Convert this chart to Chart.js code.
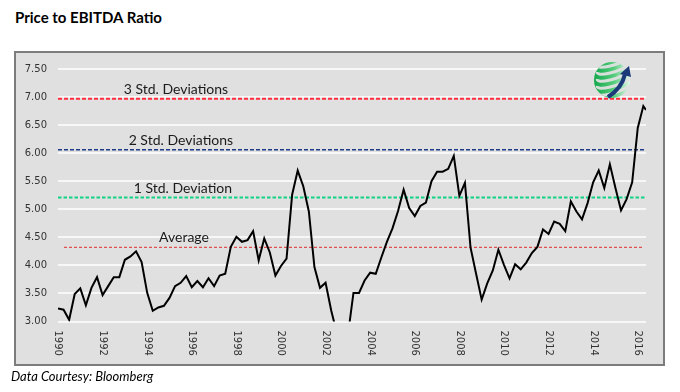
<!DOCTYPE html>
<html>
<head>
<meta charset="utf-8">
<title>Price to EBITDA Ratio</title>
<script src="https://cdn.jsdelivr.net/npm/chart.js@4.4.0/dist/chart.umd.min.js"></script>
<style>
  html, body { margin: 0; padding: 0; background: #fff; }
  body { width: 680px; height: 392px; position: relative; overflow: hidden; font-family: Lato, 'Open Sans', sans-serif; }
  .title { position: absolute; left: 15px; top: 8px; font-weight: bold; font-size: 15px; color: #000; }
  .panel { position: absolute; left: 14px; top: 51px; width: 651px; height: 315px; box-sizing: border-box;
           background: #e0e0e0; border: 2px solid #7c7c7c; }
  .source { position: absolute; left: 11px; top: 368px; font-style: italic; font-size: 13px; color: #000; }
  #chart { position: absolute; left: 0; top: 0; }
</style>
</head>
<body>
<div class="title">Price to EBITDA Ratio</div>
<div class="panel"></div>
<canvas id="chart" width="680" height="392"></canvas>
<div class="source">Data Courtesy: Bloomberg</div>

<script>
// quarterly readings, first one is 1990 Q1
const startYear = 1990;
const ratio = [
  3.23, 3.21, 3.03, 3.49,   // 1990
  3.59, 3.29, 3.60, 3.79,   // 1991
  3.47, 3.63, 3.79, 3.79,   // 1992
  4.10, 4.16, 4.25, 4.06,   // 1993
  3.51, 3.19, 3.25, 3.28,   // 1994
  3.42, 3.63, 3.69, 3.81,   // 1995
  3.61, 3.72, 3.61, 3.77,   // 1996
  3.63, 3.82, 3.85, 4.33,   // 1997
  4.51, 4.42, 4.45, 4.61,   // 1998
  4.09, 4.48, 4.23, 3.82,   // 1999
  3.99, 4.12, 5.26, 5.69,   // 2000
  5.41, 4.96, 3.97, 3.60,   // 2001
  3.69, 3.20, 2.80, 2.60,   // 2002
  2.75, 3.51, 3.51, 3.73,   // 2003
  3.87, 3.85, 4.14, 4.42,   // 2004
  4.66, 4.97, 5.35, 5.02,   // 2005
  4.88, 5.06, 5.12, 5.50,   // 2006
  5.67, 5.67, 5.72, 5.95,   // 2007
  5.24, 5.47, 4.32, 3.85,   // 2008
  3.39, 3.68, 3.91, 4.28,   // 2009
  4.01, 3.77, 4.02, 3.93,   // 2010
  4.05, 4.22, 4.33, 4.64,   // 2011
  4.56, 4.78, 4.74, 4.61,   // 2012
  5.14, 4.96, 4.82, 5.11,   // 2013
  5.48, 5.69, 5.38, 5.80,   // 2014
  5.38, 4.98, 5.18, 5.48,   // 2015
  6.45, 6.84                // 2016
];
const lastYear = 2016.37;
const lastValue = 6.77;

const yearLabels = ['1990', '1992', '1994', '1996', '1998', '2000', '2002',
                    '2004', '2006', '2008', '2010', '2012', '2014', '2016'];

const levelNames = ['3 Std. Deviations', '2 Std. Deviations', '1 Std. Deviation', 'Average'];
const levelValues = [6.97, 6.06, 5.21, 4.32];

// styling for the reference lines
const levelStyles = [
  { color: '#ff2a3a', width: 2,   dash: [4, 2],   from: 1990,    to: lastYear },
  { color: '#1d3a86', width: 1.5, dash: [4, 2],   from: 1990,    to: lastYear },
  { color: '#10d284', width: 2.2, dash: [3.5, 2], from: 1990,    to: lastYear },
  { color: '#e05050', width: 1.3, dash: [3, 2],   from: 1990.27, to: 2016.25 }
];
const labelCenters = [1995.29, 1995.51, 1995.6, 1995.65];

const ratioPoints = ratio.map((v, i) => ({ x: startYear + i / 4, y: v }));
ratioPoints.push({ x: lastYear, y: lastValue });

const levelDatasets = levelValues.map((v, i) => ({
  label: levelNames[i],
  data: [{ x: levelStyles[i].from, y: v }, { x: levelStyles[i].to, y: v }],
  borderColor: levelStyles[i].color,
  borderWidth: levelStyles[i].width,
  borderDash: levelStyles[i].dash,
  pointRadius: 0,
  fill: false
}));

const yearLabelPlugin = {
  id: 'yearLabels',
  afterDraw(chart) {
    const { ctx, chartArea, scales } = chart;
    ctx.save();
    ctx.font = '10px "DejaVu Sans"';
    ctx.fillStyle = '#333';
    ctx.textAlign = 'left';
    ctx.textBaseline = 'middle';
    yearLabels.forEach(label => {
      const x = scales.x.getPixelForValue(Number(label));
      ctx.save();
      ctx.translate(x, chartArea.bottom + 9);
      ctx.rotate(Math.PI / 2);
      ctx.fillText(label, 0, 0);
      ctx.restore();
    });
    ctx.restore();
  }
};

const levelLabelPlugin = {
  id: 'levelLabels',
  afterDatasetsDraw(chart) {
    const { ctx, scales } = chart;
    ctx.save();
    ctx.font = '14px Lato';
    ctx.fillStyle = '#1a1a1a';
    ctx.textAlign = 'center';
    ctx.textBaseline = 'middle';
    levelNames.forEach((name, i) => {
      const x = scales.x.getPixelForValue(labelCenters[i]);
      const y = scales.y.getPixelForValue(levelValues[i]) - 9.5;
      ctx.fillText(name, x, y);
    });
    ctx.restore();
  }
};

// little globe logo in the top right corner
const logoPlugin = {
  id: 'logo',
  afterDraw(chart) {
    const ctx = chart.ctx;
    const cx = 612, cy = 80, r = 18;
    ctx.save();
    ctx.beginPath();
    ctx.arc(cx, cy, r, 0, Math.PI * 2);
    ctx.clip();
    const g = ctx.createLinearGradient(cx - r, cy, cx + r, cy);
    g.addColorStop(0, '#12a84a');
    g.addColorStop(0.55, '#55cc7c');
    g.addColorStop(1, '#e4f6ea');
    ctx.fillStyle = g;
    ctx.fillRect(cx - r, cy - r, r * 2, r * 2);
    ctx.strokeStyle = 'rgba(224,224,224,0.95)';
    ctx.lineWidth = 3;
    for (let k = -3; k <= 3; k++) {
      ctx.beginPath();
      ctx.ellipse(cx + 4, cy + k * 7, r * 1.1, 5, -0.35, Math.PI * 0.15, Math.PI * 1.05);
      ctx.stroke();
    }
    ctx.restore();

    ctx.save();
    ctx.strokeStyle = '#1c3a7a';
    ctx.lineWidth = 4;
    ctx.beginPath();
    ctx.moveTo(cx - 4, cy + r - 1);
    ctx.quadraticCurveTo(cx + 10, cy + 8, cx + 13, cy - 6);
    ctx.stroke();
    ctx.fillStyle = '#1c3a7a';
    ctx.beginPath();
    ctx.moveTo(cx + 17, cy - 14);
    ctx.lineTo(cx + 19, cy - 3);
    ctx.lineTo(cx + 8, cy - 6);
    ctx.closePath();
    ctx.fill();
    ctx.restore();
  }
};

new Chart(document.getElementById('chart'), {
  type: 'line',
  data: {
    datasets: [
      {
        label: 'Price to EBITDA',
        data: ratioPoints,
        borderColor: '#000',
        borderWidth: 2,
        pointRadius: 0,
        tension: 0,
        fill: false
      },
      ...levelDatasets
    ]
  },
  options: {
    responsive: false,
    animation: false,
    events: [],
    layout: { padding: { left: 0, top: 69, right: 34, bottom: 70.5 } },
    plugins: {
      legend: { display: false },
      tooltip: { enabled: false }
    },
    scales: {
      x: {
        type: 'linear',
        display: false,
        min: startYear,
        max: lastYear
      },
      y: {
        min: 3,
        max: 7.5,
        afterFit(scale) { scale.width = 58; },
        border: { display: false },
        grid: { color: '#f7f7f7', lineWidth: 2, drawTicks: false },
        ticks: {
          stepSize: 0.5,
          padding: 11,
          color: '#333',
          font: { family: 'DejaVu Sans', size: 10 },
          callback: v => v.toFixed(2)
        }
      }
    }
  },
  plugins: [yearLabelPlugin, levelLabelPlugin, logoPlugin]
});
</script>
</body>
</html>
